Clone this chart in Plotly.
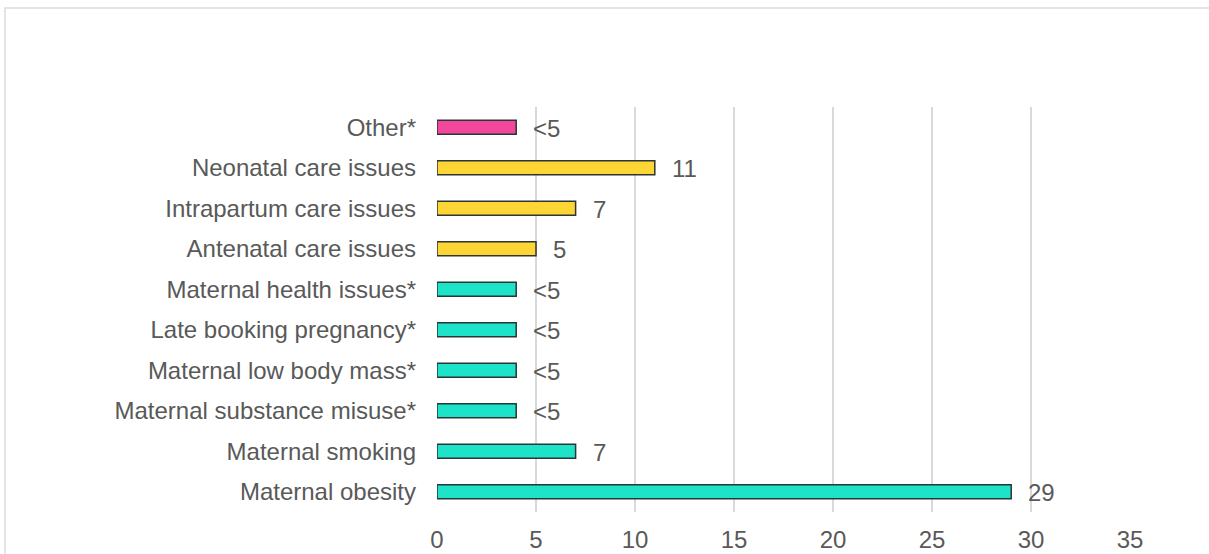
import plotly.graph_objects as go

# Contributory factors, listed bottom to top as drawn
categories = [
    "Maternal obesity",
    "Maternal smoking",
    "Maternal substance misuse*",
    "Maternal low body mass*",
    "Late booking pregnancy*",
    "Maternal health issues*",
    "Antenatal care issues",
    "Intrapartum care issues",
    "Neonatal care issues",
    "Other*",
]
values = [29, 7, 4, 4, 4, 4, 5, 7, 11, 4]
value_labels = ["29", "7", "<5", "<5", "<5", "<5", "5", "7", "11", "<5"]
groups = ["maternal"] * 6 + ["care"] * 3 + ["other"]

group_colors = {"maternal": "#1de3c8", "care": "#fdd535", "other": "#f2479a"}
bar_colors = [group_colors[g] for g in groups]

x_ticks = [0, 5, 10, 15, 20, 25, 30, 35]

FONT = "Liberation Sans, Arial, sans-serif"
TEXT = "#595959"

fig = go.Figure(
    go.Bar(
        x=values,
        y=categories,
        orientation="h",
        marker=dict(color=bar_colors, line=dict(color="#2a3535", width=1.5)),
        width=0.35,
        hoverinfo="skip",
    )
)

for v, c, t in zip(values, categories, value_labels):
    fig.add_annotation(
        x=v, y=c, text=t, showarrow=False, xanchor="left", xshift=15, yshift=-1,
        font=dict(size=24, color=TEXT, family=FONT),
    )

# Outer chart frame (light border)
fig.add_shape(
    type="rect", xref="paper", yref="paper",
    x0=-0.6234, x1=1.13, y0=-0.13, y1=1.2444,
    line=dict(color="#dcdcdc", width=1.5), layer="below",
)

fig.update_layout(
    width=1209,
    height=554,
    margin=dict(l=437, r=79, t=107, b=42, autoexpand=False),
    paper_bgcolor="white",
    plot_bgcolor="white",
    showlegend=False,
    font=dict(family=FONT, size=24, color=TEXT),
    xaxis=dict(
        range=[0, 35],
        tickvals=x_ticks,
        showgrid=True,
        gridcolor="#d9d9d9",
        gridwidth=1.5,
        zeroline=False,
        showline=False,
        ticks="",
        automargin=False,
        ticklabelstandoff=11,
        tickfont=dict(size=24, color=TEXT, family=FONT),
    ),
    yaxis=dict(
        showgrid=False,
        zeroline=False,
        showline=False,
        ticks="",
        automargin=False,
        ticklabelstandoff=20,
        tickfont=dict(size=24, color=TEXT, family=FONT),
        categoryorder="array",
        categoryarray=categories,
    ),
)

fig.write_html("out.html")
